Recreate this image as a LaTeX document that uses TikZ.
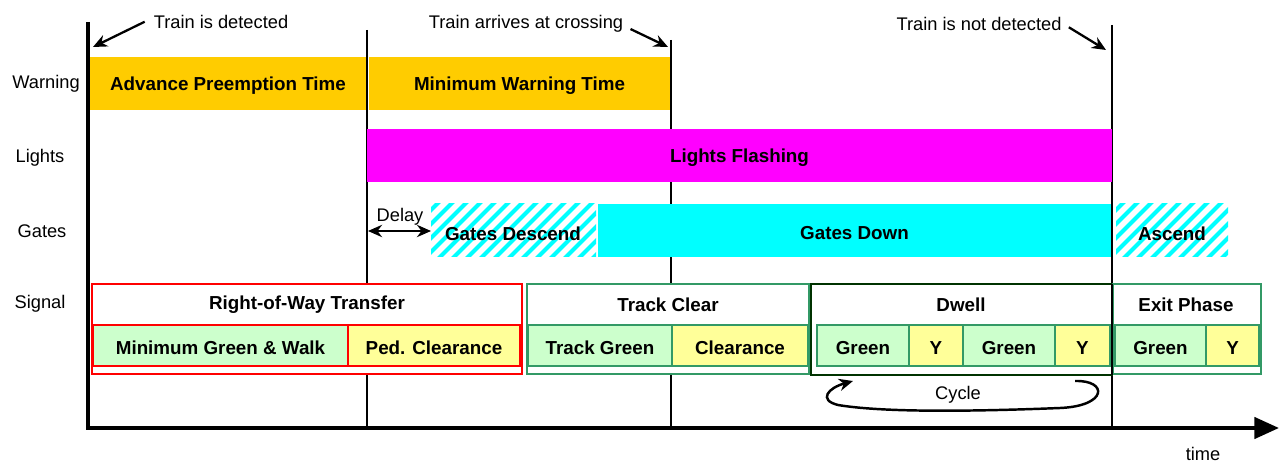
\documentclass[tikz,border=0pt]{standalone}
\usepackage{fontspec}
\setmainfont{Liberation Sans}
\usetikzlibrary{arrows.meta}

\definecolor{warnorange}{HTML}{FFCC00}
\definecolor{flashmag}{HTML}{FF00FF}
\definecolor{gatecyan}{HTML}{00FFFF}
\definecolor{litegreen}{HTML}{CCFFCC}
\definecolor{liteyellow}{HTML}{FFFF99}
\definecolor{seagreen}{HTML}{339966}
\definecolor{darkgreen}{HTML}{003300}

\tikzset{
	bartext/.style = {font=\bfseries\fontsize{10.7}{12}\selectfont, text=black, inner sep=0pt, yshift=-1.3pt},
	plaintext/.style = {font=\fontsize{10.4}{12}\selectfont, text=black, inner sep=0pt, yshift=-1pt},
	timeline/.style = {line width=1.2pt},
	annot/.style = {line width=1.3pt, -{Stealth[length=8pt, width=7pt]}},
	cell/.style = {line width=1.4pt}
}

\begin{document}
\begin{tikzpicture}[x = 0.02cm, y = -0.02cm]
	%	page
	\useasboundingbox (0,0) rectangle (1280,462);
	
	%	time lines
	\draw[line width=1.8pt] (88,22) -- (88,428);
	\draw[timeline] (367,30) -- (367,428);
	\draw[timeline] (671,40) -- (671,428);
	\draw[timeline] (1112,25) -- (1112,428);
	\draw[line width=2.3pt, -{Triangle[length=14pt, width=12pt]}] (86,428) -- (1279,428);
	\node[plaintext] (time) at (1203,452) {time};
	
	%	row labels
	\node[plaintext] (warning) at (46,82) {Warning};
	\node[plaintext] (lights) at (40,156) {Lights};
	\node[plaintext] (gates) at (42,229) {Gates};
	\node[plaintext] (signal) at (40,302) {Signal};
	
	%	warning
	\fill[warnorange] (90,57) rectangle (366,110) node[midway, bartext] (apt) {Advance Preemption Time};
	\fill[warnorange] (369,57) rectangle (670,110) node[midway, bartext] (mwt) {Minimum Warning Time};
	
	%	lights
	\fill[flashmag] (367,129) rectangle (1112,182) node[midway, bartext] (flash) {Lights Flashing};
	
	%	gates
	\foreach \xa/\xb in {431/596, 1116/1228}{
		\begin{scope}
			\clip (\xa,204) rectangle (\xb,257);
			\foreach \s in {-80,-66,...,200}
				\draw[gatecyan, line width=2.3pt] (\xa+\s,262) -- ++(70,-70);
		\end{scope}
	}
	\fill[gatecyan] (598,204) rectangle (1111,257) node[midway, bartext] (down) {Gates Down};
	\node[bartext] (descend) at (513,231) {Gates Descend};
	\node[bartext] (ascend) at (1172,231) {Ascend};
	
	%	delay
	\coordinate (delayL) at (368,231);
	\coordinate (delayR) at (431,231);
	\draw[line width=1.3pt, {Stealth[length=8pt, width=7pt]}-{Stealth[length=8pt, width=7pt]}] (delayL) -- (delayR);
	\node[plaintext] (delay) at (400,215) {Delay};
	
	%	signal: right-of-way transfer
	\draw[cell, red, fill=white] (92,284) rectangle (522,374);
	\node[bartext] (rowt) at (307,302) {Right-of-Way Transfer};
	\draw[cell, red, fill=litegreen] (93,325) rectangle (348,366) node[midway, bartext] (mingreen) {Minimum Green \& Walk};
	\draw[cell, red, fill=liteyellow] (348,325) rectangle (520,366) node[midway, bartext] (pedclr) {Ped. Clearance};
	
	%	signal: track clear
	\draw[cell, seagreen, fill=white] (527,284) rectangle (809,374);
	\node[bartext] (trackclr) at (668,302) {Track Clear};
	\draw[cell, seagreen, fill=litegreen] (528,325) rectangle (672,366) node[midway, bartext] (trackgreen) {Track Green};
	\draw[cell, seagreen, fill=liteyellow] (672,325) rectangle (808,366) node[midway, bartext] (clearance) {Clearance};
	
	%	signal: dwell
	\fill[white] (811,284) rectangle (1112,375);
	\draw[cell, seagreen, fill=litegreen] (817,325) rectangle (909,366) node[midway, bartext] (dgreenA) {Green};
	\draw[cell, seagreen, fill=liteyellow] (909,325) rectangle (963,366) node[midway, bartext] (dyA) {Y};
	\draw[cell, seagreen, fill=litegreen] (963,325) rectangle (1055,366) node[midway, bartext] (dgreenB) {Green};
	\draw[cell, seagreen, fill=liteyellow] (1055,325) rectangle (1110,366) node[midway, bartext] (dyB) {Y};
	\draw[cell, darkgreen] (811,284) rectangle (1112,375);
	\node[bartext] (dwell) at (961,302) {Dwell};
	
	%	signal: exit phase
	\draw[cell, seagreen, fill=white] (1113,284) rectangle (1261,374);
	\node[bartext] (exit) at (1186,302) {Exit Phase};
	\draw[cell, seagreen, fill=litegreen] (1115,325) rectangle (1206,366) node[midway, bartext] (egreen) {Green};
	\draw[cell, seagreen, fill=liteyellow] (1206,325) rectangle (1259,366) node[midway, bartext] (ey) {Y};
	\draw[line width=1.3pt] (1112,284) -- (1112,375);
	
	%	cycle
	\node[plaintext] (cycle) at (958,393) {Cycle};
	\coordinate (cycStart) at (1075,381);
	\coordinate (cycEnd) at (853,381);
	\draw[line width=1.4pt, -{Stealth[length=8pt, width=7pt]}] (cycStart) .. controls (1108,380) and (1108,406) .. (1060,408)
		.. controls (960,412) and (880,412) .. (838,405) .. controls (818,400) and (828,388) .. (cycEnd);
	
	%	events
	\node[plaintext] (detected) at (221,20) {Train is detected};
	\coordinate (detTip) at (93,47);
	\draw[annot] ([xshift=-5pt, yshift=0pt]detected.west) -- (detTip);
	\node[plaintext] (arrives) at (526,22) {Train arrives at crossing};
	\coordinate (arrTip) at (668,47);
	\draw[annot] ([xshift=4pt, yshift=-3pt]arrives.east) -- (arrTip);
	\node[plaintext] (notdet) at (979,22) {Train is not detected};
	\coordinate (notTip) at (1106,50);
	\draw[annot] ([xshift=4pt, yshift=-2pt]notdet.east) -- (notTip);
\end{tikzpicture}
\end{document}
